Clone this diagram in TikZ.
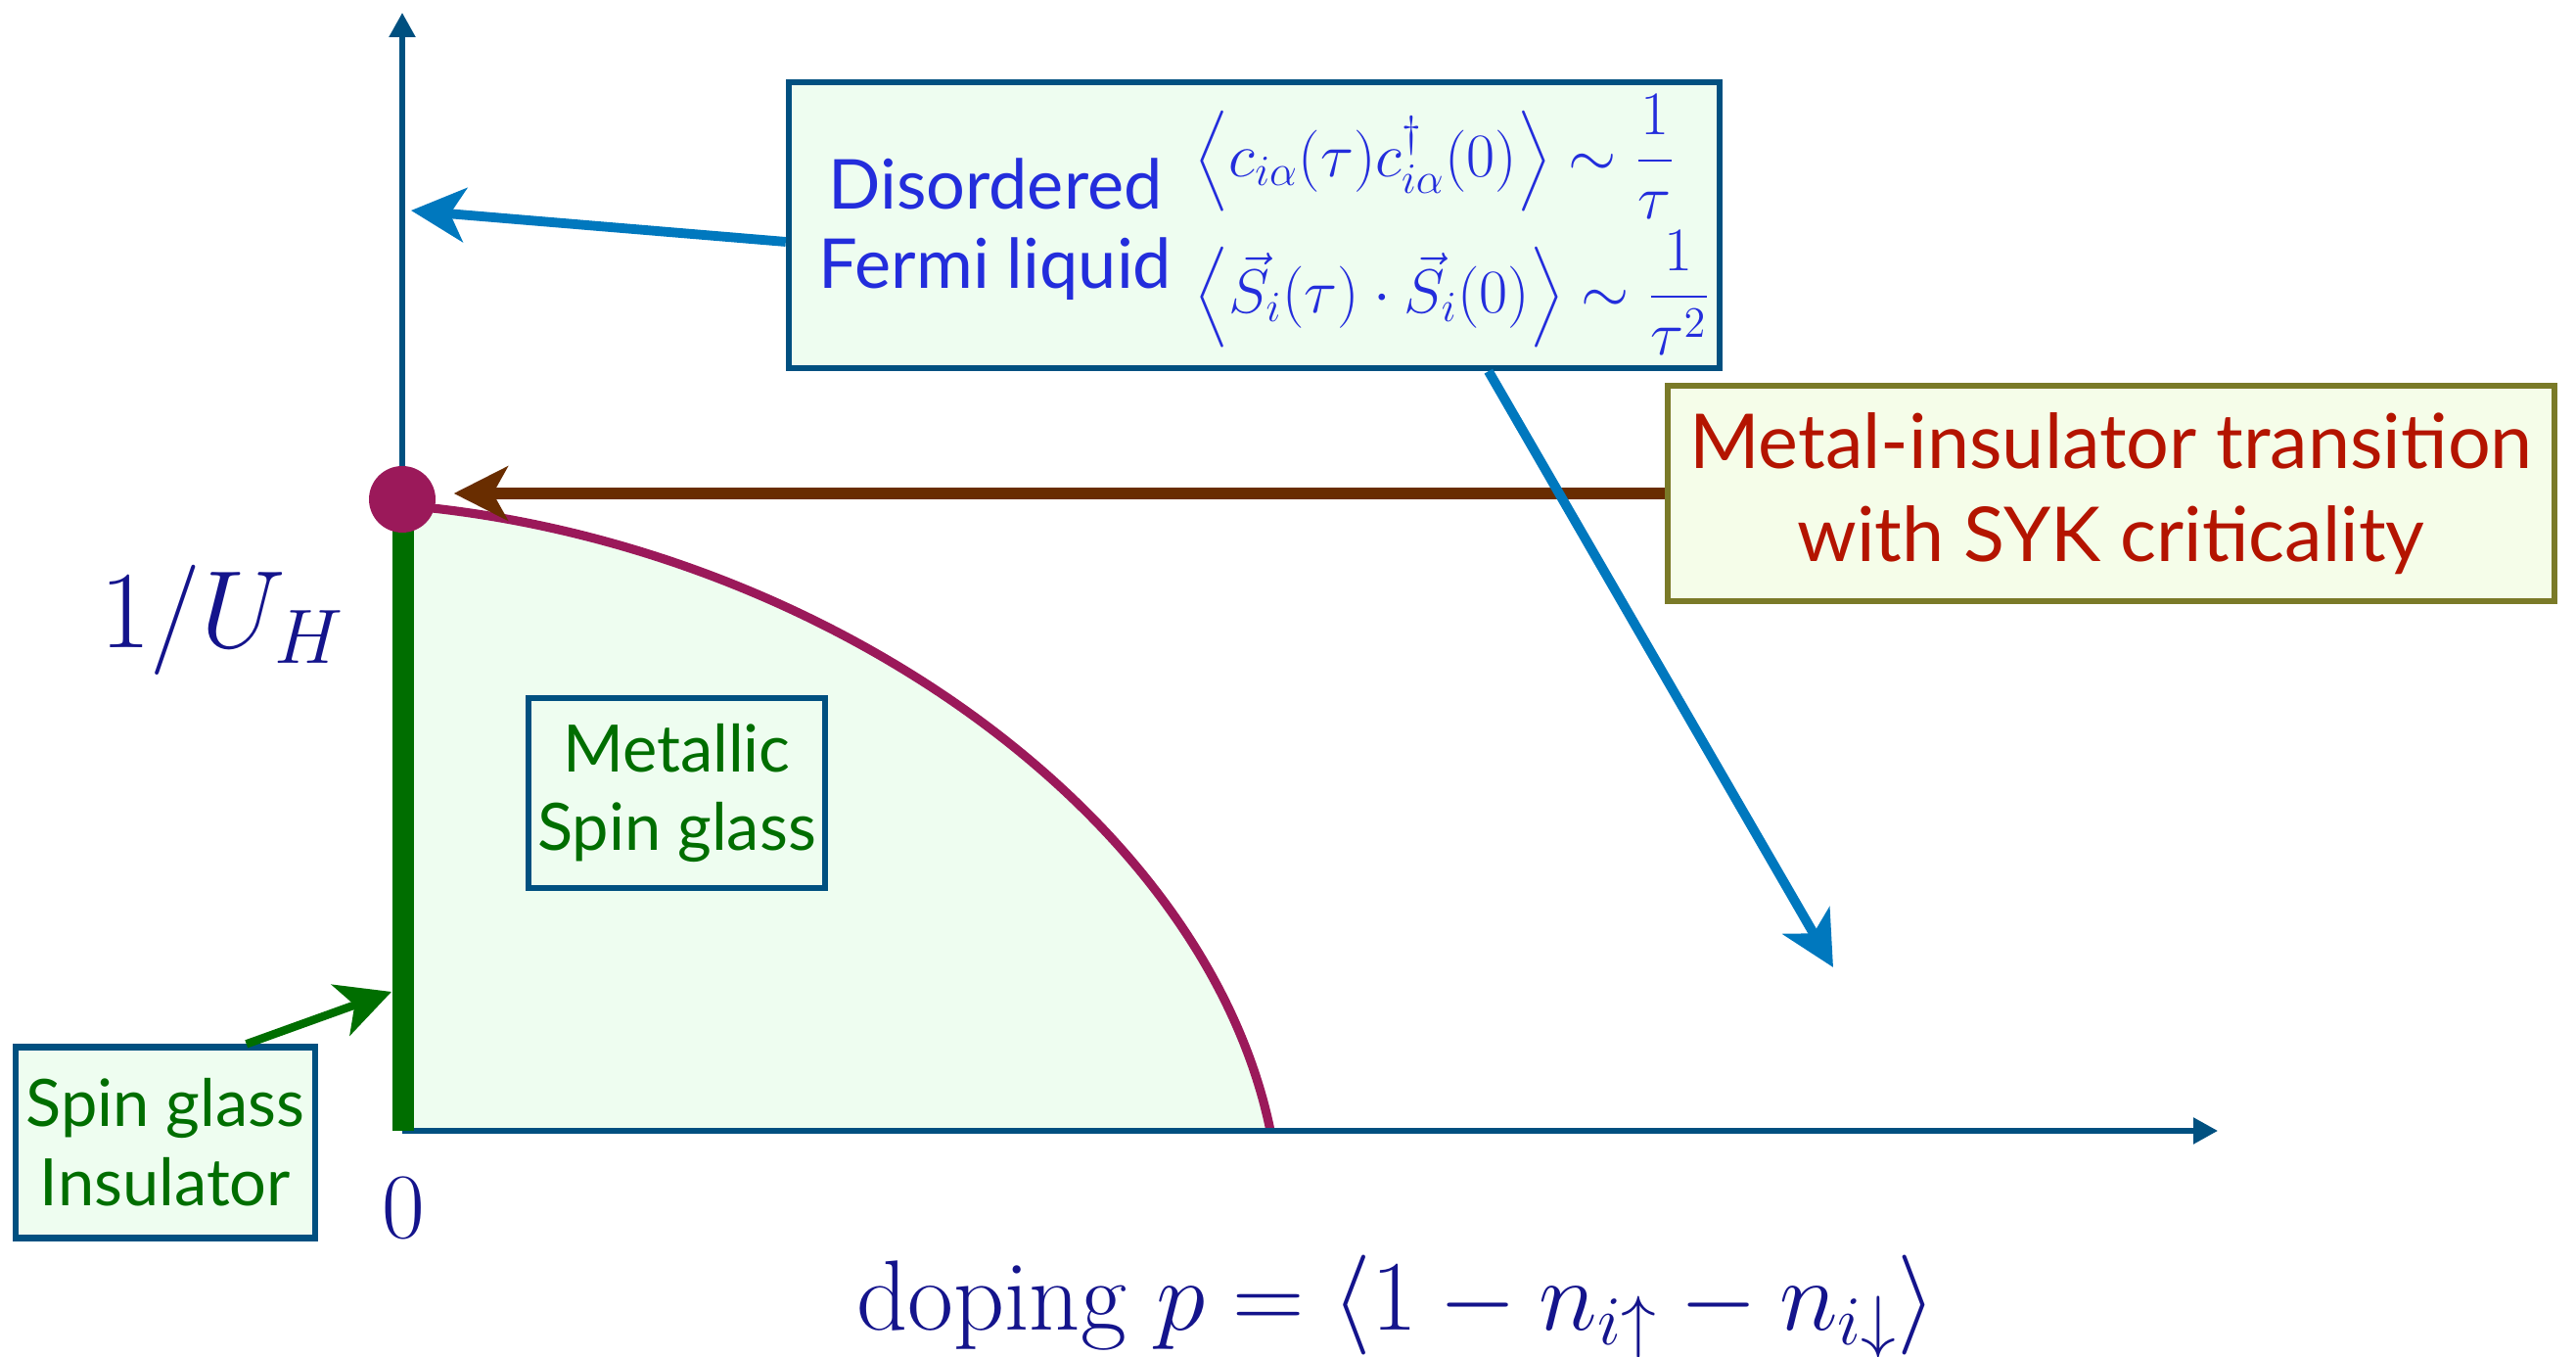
\RequirePackage{fix-cm}
\documentclass[tikz,border=0pt]{standalone}
\usepackage{amsmath}
\usepackage{graphicx}
\usepackage{fontspec}
\setsansfont{Lato}
\usetikzlibrary{arrows.meta,calc}

\definecolor{axisblue}{RGB}{0,80,128}
\definecolor{arrowblue}{RGB}{0,120,190}
\definecolor{critred}{RGB}{155,25,90}
\definecolor{sggreen}{RGB}{0,110,0}
\definecolor{phasefill}{RGB}{238,253,240}
\definecolor{mitfill}{RGB}{245,253,233}
\definecolor{mitframe}{RGB}{122,122,40}
\definecolor{mitred}{RGB}{180,20,0}
\definecolor{flblue}{RGB}{35,45,220}
\definecolor{labelnavy}{RGB}{20,20,140}
\definecolor{arrowbrown}{RGB}{105,45,0}

% angle brackets of fixed height for the correlators
\newcommand{\lcorr}{\mathopen{\vcenter{\hbox{\resizebox*{!}{1.07cm}{$\Big\langle$}}}}}
\newcommand{\rcorr}{\mathclose{\vcenter{\hbox{\resizebox*{!}{1.07cm}{$\Big\rangle$}}}}}

\begin{document}
\begin{tikzpicture}[font=\sffamily,
  phasebox/.style={draw=axisblue, line width=1.8pt, fill=phasefill, inner sep=0pt},
  axis/.style={draw=axisblue, line width=1.5pt, -{Triangle[length=2.5mm,width=2.6mm]}},
  pointer/.style={line width=2.8pt, -{Stealth[length=5.5mm,width=5.5mm,inset=1.5mm]}}]
  \useasboundingbox (0,0) rectangle (26.32,13.86);

  % Phase region under the transition line
  \fill[phasefill] (4.11,2.31) -- (4.11,8.7) .. controls (8.3,8.35) and (12.3,5.6) .. (12.98,2.31) -- cycle;
  \draw[critred, line width=2.6pt] (4.11,8.7) .. controls (8.3,8.35) and (12.3,5.6) .. (12.98,2.31);

  % Axes
  \draw[axis] (4.11,2.31) -- (4.11,13.73);
  \draw[axis] (4.11,2.31) -- (22.66,2.31);
  \draw[sggreen, line width=6pt] (4.12,2.31) -- (4.12,8.7);
  \node[circle, fill=critred, minimum size=0.68cm, inner sep=0pt] (crit) at (4.11,8.76) {};

  \node[text=labelnavy, font=\rmfamily\fontsize{32}{38}\selectfont] (uh) at (2.27,7.53) {$1/U_H$};
  \node[text=labelnavy, font=\rmfamily\fontsize{27}{32}\selectfont] (zero) at (4.12,1.52) {$0$};
  \node[text=labelnavy, font=\rmfamily\fontsize{29}{34}\selectfont] (dope) at (14.27,0.51) {doping $p = \langle 1 - n_{i\uparrow} - n_{i\downarrow}\rangle$};

  % Boxes
  \node[phasebox, minimum width=9.51cm, minimum height=2.92cm] (dfl) at (12.815,11.56) {};
  \node[text=flblue, align=center, font=\sffamily\fontsize{20}{23}\selectfont] (dfltext) at (10.17,11.52) {Disordered\\Fermi liquid};
  \node[text=flblue, anchor=west, inner sep=0pt, font=\fontsize{18}{22}\selectfont] (green) at (12.2,12.26)
    {$\lcorr c_{i\alpha}(\tau)c^\dagger_{i\alpha}(0)\rcorr \sim \dfrac{1}{\tau}$};
  \node[text=flblue, anchor=west, inner sep=0pt, font=\fontsize{18}{22}\selectfont] (spin) at (12.2,10.87)
    {$\lcorr \vec{S}_i(\tau)\cdot\vec{S}_i(0)\rcorr \sim \dfrac{1}{\tau^2}$};

  \node[draw=mitframe, line width=1.8pt, fill=mitfill, minimum width=9.06cm, minimum height=2.2cm, align=center,
    text=mitred, font=\sffamily\fontsize{22}{27}\selectfont] (mit) at (21.57,8.82) {Metal-insulator transition\\with SYK criticality};

  \node[phasebox, minimum width=3.03cm, minimum height=1.94cm, align=center, text=sggreen,
    font=\sffamily\fontsize{19}{23}\selectfont] (msg) at (6.915,5.76) {Metallic\\Spin glass};
  \node[phasebox, minimum width=3.06cm, minimum height=1.95cm, align=center, text=sggreen,
    font=\sffamily\fontsize{19}{23}\selectfont] (sgi) at (1.69,2.19) {Spin glass\\Insulator};

  % Pointers
  \coordinate (flpt) at (4.20,11.71);
  \coordinate (dopept) at (18.73,3.98);
  \coordinate (sgpt) at (4.00,3.73);
  \draw[pointer, arrowbrown, line width=3.6pt, shorten >=0.18cm] (mit.west) -- (crit.east |- mit.west);
  \draw[pointer, arrowblue] ([yshift=-0.17cm]dfl.west) -- (flpt);
  \draw[pointer, arrowblue] ($(dfl.south west)!0.75!(dfl.south east)$) -- (dopept);
  \draw[pointer, sggreen, line width=2.4pt] ($(sgi.north west)!0.765!(sgi.north east)$) -- (sgpt);
\end{tikzpicture}
\end{document}
